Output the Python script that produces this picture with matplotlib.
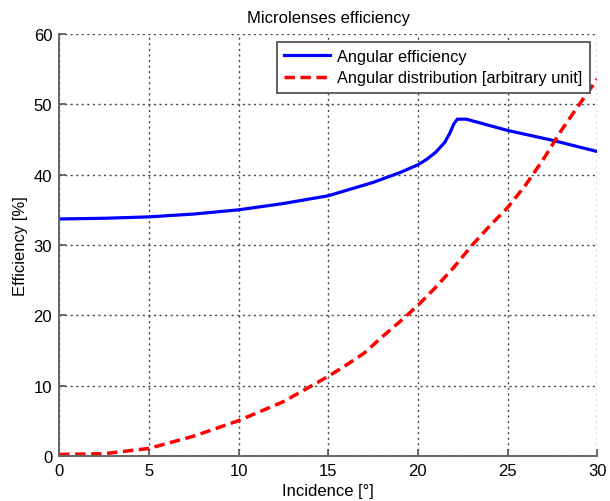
import numpy as np
import matplotlib
matplotlib.use('Agg')
import matplotlib.pyplot as plt

plt.rcParams['font.family'] = ['Liberation Sans', 'DejaVu Sans']

# Angular efficiency (blue)
inc_eff = [0, 2.5, 5, 7.5, 10, 12.5, 15, 17.5, 19, 20, 20.5, 21, 21.5, 21.8, 22, 22.2, 22.7, 25, 27.5, 30]
eff = [33.7, 33.8, 34.0, 34.4, 35.0, 35.9, 37.0, 38.9, 40.3, 41.4, 42.2, 43.2, 44.6, 46.0, 47.2, 47.9, 47.9, 46.3, 44.9, 43.3]

# Angular distribution (red dashed)
inc_dist = [0, 2.5, 5, 7.5, 10, 12.5, 15, 16, 17, 18, 19, 20, 21, 22, 23, 24, 25, 26, 27, 28, 29, 30]
dist = [0.2, 0.3, 1.05, 2.8, 5.0, 7.7, 11.3, 12.9, 14.6, 16.9, 19.1, 21.4, 24.0, 26.8, 29.9, 32.7, 35.3, 38.5, 42.2, 46.3, 50.0, 53.6]

fig = plt.figure(figsize=(6.1, 5.02), dpi=100)
ax = fig.add_axes([0.097, 0.09, 0.882, 0.84])

ax.plot(inc_eff, eff, color='#0000ff', lw=2.3, label='Angular efficiency')
ax.plot(inc_dist, dist, color='#ff0000', lw=2.5, ls=(0, (3, 1.6)),
        label='Angular distribution [arbitrary unit]')

ax.set_xlim(0, 30)
ax.set_ylim(0, 60)
ax.set_xticks(np.arange(0, 31, 5))
ax.set_yticks(np.arange(0, 61, 10))
ax.grid(True, ls=(0, (1.5, 2.5)), color='#444444', lw=1.0)
ax.tick_params(direction='in', labelsize=12, length=5, width=1.2, color='#555555', pad=5)
for s in ['top', 'right']:
    ax.spines[s].set_visible(False)
for s in ['left', 'bottom']:
    ax.spines[s].set_color('#666666')
    ax.spines[s].set_linewidth(1.4)

ax.set_title('Microlenses efficiency', fontsize=12, pad=9)
ax.set_xlabel('Incidence [°]', fontsize=12, labelpad=4)
ax.set_ylabel('Efficiency [%]', fontsize=12, labelpad=4)

leg = ax.legend(loc='upper right', fontsize=11.8, fancybox=False, framealpha=1,
                edgecolor='#555555', borderaxespad=0.45, handlelength=2.8,
                handletextpad=0.45, borderpad=0.45, labelspacing=0.4)
leg.get_frame().set_linewidth(1.3)

fig.savefig('out.png', dpi=100)
